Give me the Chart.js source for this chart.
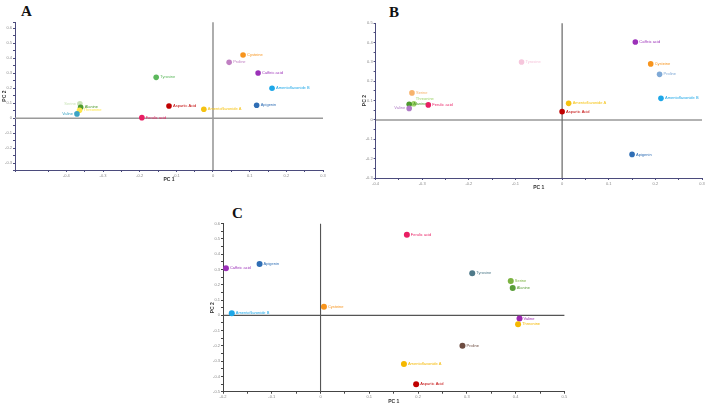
<!DOCTYPE html>
<html>
<head>
<meta charset="utf-8">
<script src="https://cdn.jsdelivr.net/npm/chart.js@4/dist/chart.umd.min.js"></script>
<style>
  html, body { margin: 0; padding: 0; background: #fff; }
  body { width: 708px; height: 409px; position: relative; overflow: hidden; }
  .panel { position: absolute; }
  .letter { position: absolute; font: bold 15px "Liberation Serif", serif; color: #111; }
</style>
</head>
<body>
<div class="letter" style="left:21px;top:3px">A</div>
<div class="letter" style="left:389px;top:4px">B</div>
<div class="letter" style="left:232px;top:205px">C</div>
<div class="panel" style="left:0;top:0;width:330px;height:186px"><canvas id="chartA"></canvas></div>
<div class="panel" style="left:340px;top:0;width:368px;height:194px"><canvas id="chartB"></canvas></div>
<div class="panel" style="left:190px;top:200px;width:392px;height:208px"><canvas id="chartC"></canvas></div>
<script>
// Panel A
const namesA = ['Cysteine', 'Proline', 'Caffeic acid', 'Amentoflavonide B', 'Apigenin', 'Amentoflavonide A',
  'Tyrosine', 'Aspartic Acid', 'Ferulic acid', 'Serine', 'Alanine', 'Threonine', 'Valine'];
const pc1A = [0.082, 0.044, 0.123, 0.161, 0.119, -0.025, -0.155, -0.12, -0.194, -0.363, -0.361, -0.364, -0.371];
const pc2A = [0.422, 0.373, 0.302, 0.2, 0.087, 0.06, 0.273, 0.082, 0.004, 0.096, 0.073, 0.053, 0.029];
const colorsA = ['#f7941d', '#c07fc2', '#9b30b8', '#1ea7e8', '#2f6eb5', '#f5c211', '#5cb85c', '#c00000',
  '#e91e63', '#c9e3b8', '#4e9a2e', '#fde74c', '#3ba3c4'];

// Panel B
const namesB = ['Caffeic acid', 'Cysteine', 'Proline', 'Amentoflavonide B', 'Amentoflavonide A', 'Aspartic Acid',
  'Apigenin', 'Tyrosine', 'Serine', 'Threonine', 'Alanine', 'Valine', 'Ferulic acid'];
const pc1B = [0.157, 0.19, 0.209, 0.212, 0.014, 0.0, 0.15, -0.087, -0.322, -0.318, -0.328, -0.328, -0.287];
const pc2B = [0.403, 0.29, 0.236, 0.112, 0.086, 0.043, -0.178, 0.3, 0.14, 0.084, 0.081, 0.06, 0.078];
const colorsB = ['#9b30b8', '#f7941d', '#7fa9d6', '#1ea7e8', '#f5c211', '#c00000', '#2f6eb5', '#f6c6dc',
  '#f7b26b', '#9ed36a', '#4e9a2e', '#b07cc6', '#e91e63'];

// Panel C
const namesC = ['Ferulic acid', 'Apigenin', 'Caffeic acid', 'Tyrosine', 'Serine', 'Alanine', 'Cysteine',
  'Amentoflavonide B', 'Valine', 'Threonine', 'Proline', 'Amentoflavonide A', 'Aspartic Acid'];
const pc1C = [0.177, -0.125, -0.194, 0.311, 0.39, 0.394, 0.007, -0.182, 0.408, 0.405, 0.291, 0.171, 0.196];
const pc2C = [0.528, 0.336, 0.308, 0.275, 0.225, 0.179, 0.057, 0.013, -0.02, -0.059, -0.199, -0.319, -0.452];
const colorsC = ['#e91e63', '#2f6eb5', '#9b30b8', '#4f7a8a', '#7cb342', '#5a9e3a', '#f7941d', '#1ea7e8',
  '#9c27b0', '#f5b800', '#6d4c41', '#f5b800', '#c00000'];

// label placement tweaks (which side of the dot)
const leftLabels = { A: ['Serine', 'Valine'], B: ['Valine'], C: [] };
const aboveLabels = { A: [], B: ['Threonine'], C: [] };

const pointLabels = {
  id: 'pointLabels',
  afterDatasetsDraw(chart, args, opts) {
    const { ctx } = chart;
    const meta = chart.getDatasetMeta(0);
    ctx.save();
    ctx.font = '4px "Liberation Sans", Arial, sans-serif';
    ctx.textBaseline = 'middle';
    meta.data.forEach((pt, i) => {
      const name = opts.names[i];
      ctx.fillStyle = opts.colors[i];
      if (opts.left.includes(name)) {
        ctx.textAlign = 'right';
        ctx.fillText(name, pt.x - 4, pt.y);
      } else if (opts.above.includes(name)) {
        ctx.textAlign = 'left';
        ctx.fillText(name, pt.x + 2, pt.y - 5);
      } else {
        ctx.textAlign = 'left';
        ctx.fillText(name, pt.x + 4, pt.y);
      }
    });
    ctx.restore();
  },
};

const zeroLines = {
  id: 'zeroLines',
  beforeDatasetsDraw(chart, args, opts) {
    const { ctx, chartArea, scales } = chart;
    const x0 = scales.x.getPixelForValue(0);
    const y0 = scales.y.getPixelForValue(0);
    ctx.save();
    ctx.strokeStyle = opts.color;
    ctx.lineWidth = opts.width;
    ctx.beginPath();
    ctx.moveTo(chartArea.left, y0);
    ctx.lineTo(chartArea.right, y0);
    ctx.moveTo(x0, chartArea.top);
    ctx.lineTo(x0, chartArea.bottom);
    ctx.stroke();
    ctx.restore();
  },
};

const tickLabel = (v) => {
  const r = Math.round(v * 10);
  if (Math.abs(v * 10 - r) > 1e-6) return '';
  return r === 0 ? '0' : (r / 10).toFixed(1);
};

function makeChart(id, cfg) {
  const data = cfg.pc1.map((x, i) => ({ x, y: cfg.pc2[i] }));
  return new Chart(document.getElementById(id), {
    type: 'scatter',
    data: {
      datasets: [{
        data,
        backgroundColor: cfg.colors,
        borderColor: cfg.colors,
        borderWidth: 0,
        pointRadius: cfg.radius,
      }],
    },
    options: {
      responsive: true,
      maintainAspectRatio: false,
      animation: false,
      events: [],
      layout: { padding: cfg.padding },
      plugins: {
        legend: { display: false },
        tooltip: { enabled: false },
        zeroLines: cfg.zero,
        pointLabels: { names: cfg.names, colors: cfg.colors, left: cfg.left, above: cfg.above },
      },
      scales: {
        x: {
          type: 'linear',
          min: cfg.xMin,
          max: cfg.xMax,
          afterFit: (s) => { s.height = cfg.xHeight; },
          border: { color: cfg.axisColor, width: 1 },
          grid: { drawOnChartArea: false, tickLength: 2, color: cfg.axisColor },
          ticks: { stepSize: 0.05, autoSkip: false, maxRotation: 0, padding: 1,
            font: { size: 4 }, color: '#888', callback: tickLabel },
          title: { display: true, text: 'PC 1', font: { size: 5, weight: 'bold' }, color: '#333',
            padding: { top: 0, bottom: cfg.xTitlePad } },
        },
        y: {
          type: 'linear',
          min: cfg.yMin,
          max: cfg.yMax,
          afterFit: (s) => { s.width = cfg.yWidth; },
          border: { color: cfg.axisColor, width: 1 },
          grid: { drawOnChartArea: false, tickLength: 2, color: cfg.axisColor },
          ticks: { stepSize: 0.05, autoSkip: false, padding: 1,
            font: { size: 4 }, color: '#888', callback: tickLabel },
          title: { display: true, text: 'PC 2', font: { size: 5, weight: 'bold' }, color: '#333',
            padding: { top: cfg.yTitlePad, bottom: 0 } },
        },
      },
    },
    plugins: [zeroLines, pointLabels],
  });
}

makeChart('chartA', {
  names: namesA, pc1: pc1A, pc2: pc2A, colors: colorsA, radius: 2.8,
  left: leftLabels.A, above: aboveLabels.A,
  xMin: -0.54, xMax: 0.3, yMin: -0.345, yMax: 0.64,
  padding: { left: 0, top: 22.3, right: 7, bottom: 0 },
  xHeight: 16, yWidth: 15, xTitlePad: 3, yTitlePad: 2,
  axisColor: '#4b4b7c',
  zero: { color: '#9a9a9a', width: 1.6 },
});

makeChart('chartB', {
  names: namesB, pc1: pc1B, pc2: pc2B, colors: colorsB, radius: 2.8,
  left: leftLabels.B, above: aboveLabels.B,
  xMin: -0.4, xMax: 0.3, yMin: -0.3, yMax: 0.5,
  padding: { left: 0, top: 23.3, right: 6, bottom: 0 },
  xHeight: 16, yWidth: 35.6, xTitlePad: 3, yTitlePad: 22,
  axisColor: '#4b4b7c',
  zero: { color: '#666', width: 1.2 },
});

makeChart('chartC', {
  names: namesC, pc1: pc1C, pc2: pc2C, colors: colorsC, radius: 3,
  left: leftLabels.C, above: aboveLabels.C,
  xMin: -0.2, xMax: 0.5, yMin: -0.5, yMax: 0.6,
  padding: { left: 0, top: 23.7, right: 17.6, bottom: 0 },
  xHeight: 16.3, yWidth: 33, xTitlePad: 3, yTitlePad: 20,
  axisColor: '#444',
  zero: { color: '#555', width: 1.1 },
});
</script>
</body>
</html>
